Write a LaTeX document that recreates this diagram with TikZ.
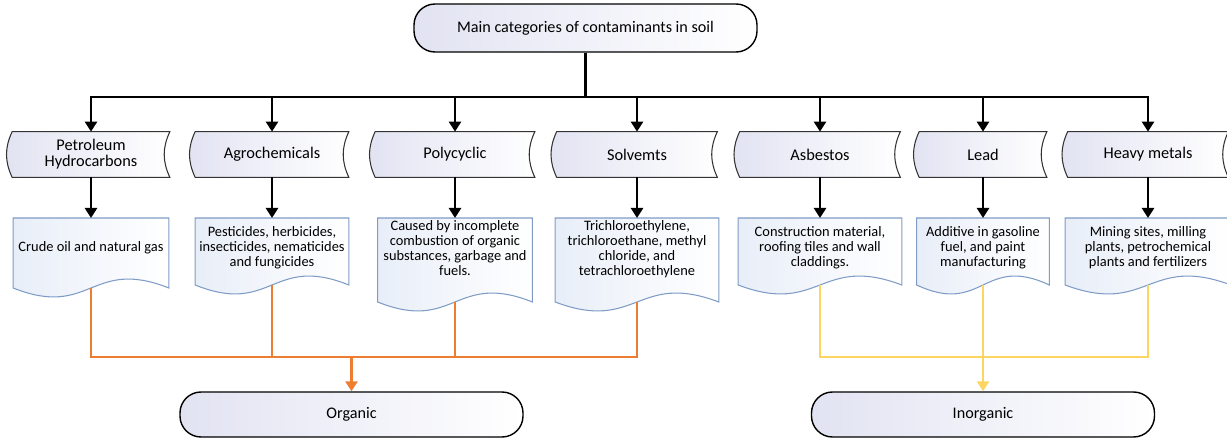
\documentclass[tikz,border=0pt]{standalone}
\usepackage{fontspec}
\setmainfont{Carlito}
\usepackage{tikz}
\usetikzlibrary{arrows.meta,positioning,calc,backgrounds}
\definecolor{pillbg}{HTML}{E2E3F2}
\definecolor{docbg}{HTML}{E8EEF8}
\definecolor{docline}{HTML}{7F9CC6}
\definecolor{orgline}{HTML}{ED7D31}
\definecolor{inorgline}{HTML}{FDD661}

\begin{document}
\begin{tikzpicture}[
  pill/.style={
    draw=black, line width=0.8pt, rounded corners=4.2mm,
    left color=pillbg, right color=white,
    minimum width=68.6mm, minimum height=9mm,
    font=\fontsize{9.2}{11}\selectfont
  },
  cat/.style={minimum height=9mm, align=center, inner sep=1pt,
    font=\fontsize{9.3}{9}\selectfont},
  catshape/.style={draw=black!80, line width=0.6pt,
    left color=pillbg, right color=white},
  doc/.style={anchor=north, minimum height=11.6mm, align=center, inner sep=1pt,
    font=\fontsize{8.2}{8.6}\selectfont},
  docshape/.style={draw=docline, line width=0.6pt,
    left color=docbg, right color=white},
  arr/.style={-{Triangle[length=2mm,width=2.4mm]}, line width=1.6pt},
  bus/.style={line width=1.6pt},
  org/.style={orgline, line width=1.6pt},
  inorg/.style={inorgline, line width=1.6pt}
]
  \useasboundingbox (0,0) rectangle (24.54,-8.78);

  \node[pill, minimum height=9.6mm] (main) at (11.71,-0.56)
    {Main categories of contaminants in soil};
  \coordinate (bus) at (11.71,-1.94);

  % categories
  \node[cat, minimum width=31.4mm] (pet)   at (1.82,-3.09)  {Petroleum\\Hydrocarbons};
  \node[cat, minimum width=30.6mm] (agr)   at (5.44,-3.09)  {Agrochemicals};
  \node[cat, minimum width=31.8mm] (poly)  at (9.10,-3.09)  {Polycyclic};
  \node[cat, minimum width=32mm]   (solv)  at (12.74,-3.09) {Solvemts};
  \node[cat, minimum width=32mm]   (asb)   at (16.40,-3.09) {Asbestos};
  \node[cat, minimum width=25.4mm] (lead)  at (19.66,-3.09) {Lead};
  \node[cat, minimum width=32mm]   (heavy) at (22.96,-3.09) {Heavy metals};

  % sources
  \node[doc, minimum width=31mm]   (crude) at (1.82,-4.36)  {Crude oil and natural gas};
  \node[doc, minimum width=30.6mm] (agro)  at (5.44,-4.36)
    {Pesticides, herbicides,\\insecticides, nematicides\\and fungicides};
  \node[doc, minimum width=30.8mm] (comb)  at (9.10,-4.36)
    {Caused by incomplete\\combustion of organic\\substances, garbage and\\fuels.};
  \node[doc, minimum width=32.6mm] (chlor) at (12.74,-4.36)
    {Trichloroethylene,\\trichloroethane, methyl\\chloride, and\\tetrachloroethylene};
  \node[doc, minimum width=32.6mm] (build) at (16.40,-4.36)
    {Construction material,\\roofing tiles and wall\\claddings.};
  \node[doc, minimum width=26.4mm] (fuel)  at (19.66,-4.36)
    {Additive in gasoline\\fuel, and paint\\manufacturing};
  \node[doc, minimum width=33mm]   (mine)  at (22.96,-4.36)
    {Mining sites, milling\\plants, petrochemical\\plants and fertilizers};

  \begin{scope}[on background layer]
    \foreach \n in {pet,agr,poly,solv,asb,lead,heavy}
      \draw[catshape] (\n.north west) to[bend right=25] (\n.south west)
        -- (\n.south east) to[bend left=25] (\n.north east) -- cycle;
    \foreach \n/\h in {crude/1.4,agro/1.34,comb/1.68,chlor/1.68,build/1.34,fuel/1.34,mine/1.34} {
      \draw[docshape] (\n.north west) -- ($(\n.north west)+(0,-\h)$)
        .. controls ($(\n.north)+(0,-\h-0.62)$) and ($(\n.north)+(0,-\h+0.62)$)
        .. ($(\n.north east)+(0,-\h)$) -- (\n.north east) -- cycle;
      \coordinate (\n-w) at ($(\n.north)+(0,-\h)$);
    }
  \end{scope}

  \draw[bus] (main) -- (bus);
  \foreach \c in {pet,agr,poly,solv,asb,lead,heavy}
    \draw[arr] (bus) -| (\c);

  \draw[arr] (pet) -- (crude);
  \draw[arr] (agr) -- (agro);
  \draw[arr] (poly) -- (comb);
  \draw[arr] (solv) -- (chlor);
  \draw[arr] (asb) -- (build);
  \draw[arr] (lead) -- (fuel);
  \draw[arr] (heavy) -- (mine);

  % groups
  \node[pill] (organic)   at (7.03,-8.29)  {Organic};
  \node[pill] (inorganic) at (19.66,-8.29) {Inorganic};

  \coordinate (ojoin) at (7.03,-7.14);
  \draw[org] (crude-w) |- (ojoin) -| (chlor-w);
  \draw[org] (agro-w) -- (agro-w |- ojoin);
  \draw[org] (comb-w) -- (comb-w |- ojoin);
  \draw[org, -{Triangle[length=2mm,width=2.4mm]}] (ojoin) -- (organic);

  \draw[inorg] (build-w) |- (fuel-w |- ojoin) -| (mine-w);
  \draw[inorg, -{Triangle[length=2mm,width=2.4mm]}] (fuel-w) -- (inorganic);
\end{tikzpicture}
\end{document}
